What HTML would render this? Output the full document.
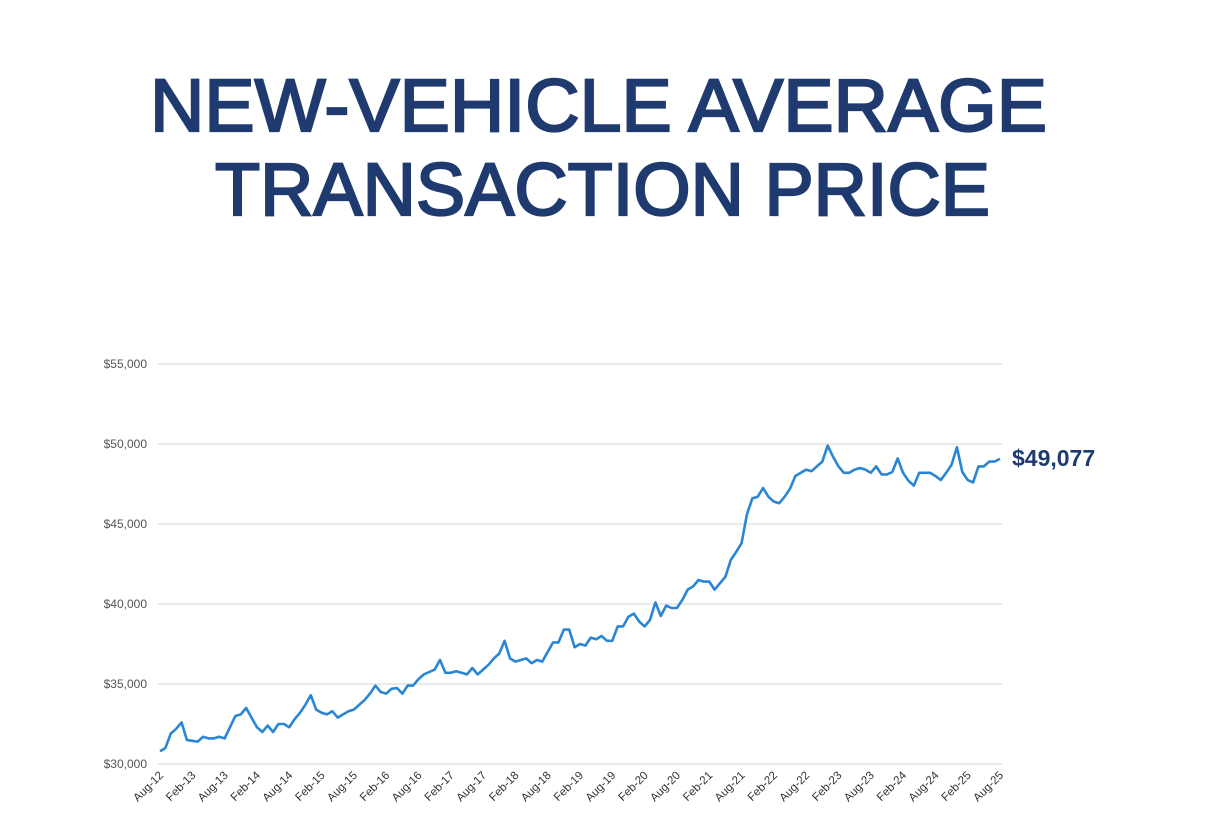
<!DOCTYPE html>
<html><head><meta charset="utf-8"><style>
html,body{margin:0;padding:0;background:#fff;}
svg{display:block;}
</style></head><body>
<svg id="chart" width="1206" height="840" xmlns="http://www.w3.org/2000/svg" font-family="Liberation Sans, sans-serif">
<text x="150" y="131" font-size="74" fill="#1f3a6e" stroke="#1f3a6e" stroke-width="2.2" textLength="897" lengthAdjust="spacingAndGlyphs">NEW-VEHICLE AVERAGE</text>
<text x="215" y="215" font-size="74" fill="#1f3a6e" stroke="#1f3a6e" stroke-width="2.2" textLength="775" lengthAdjust="spacingAndGlyphs">TRANSACTION PRICE</text>
<g id="grid"></g><g id="ylabels"></g><g id="xlabels"></g><g id="series"></g>
<text x="1012" y="466" font-size="23" font-weight="bold" fill="#1f3a6e">$49,077</text>
</svg>
<script>
const yTicks=[30000,35000,40000,45000,50000,55000];
const xTickLabels=["Aug-12","Feb-13","Aug-13","Feb-14","Aug-14","Feb-15","Aug-15","Feb-16","Aug-16","Feb-17","Aug-17","Feb-18","Aug-18","Feb-19","Aug-19","Feb-20","Aug-20","Feb-21","Aug-21","Feb-22","Aug-22","Feb-23","Aug-23","Feb-24","Aug-24","Feb-25","Aug-25"];
const pricesK=[30.8,31.0,31.9,32.2,32.6,31.5,31.45,31.4,31.7,31.6,31.6,31.7,31.6,32.3,33.0,33.1,33.5,32.9,32.3,32.0,32.4,32.0,32.5,32.5,32.3,32.8,33.2,33.7,34.3,33.4,33.2,33.1,33.3,32.9,33.1,33.3,33.4,33.7,34.0,34.4,34.9,34.5,34.4,34.7,34.75,34.4,34.9,34.9,35.3,35.6,35.75,35.9,36.5,35.7,35.7,35.8,35.7,35.6,36.0,35.6,35.9,36.2,36.6,36.9,37.7,36.6,36.4,36.5,36.6,36.3,36.5,36.4,37.0,37.6,37.6,38.4,38.4,37.3,37.5,37.4,37.9,37.8,38.0,37.7,37.7,38.6,38.6,39.2,39.4,38.9,38.6,39.0,40.1,39.25,39.9,39.75,39.75,40.25,40.9,41.1,41.5,41.4,41.4,40.9,41.3,41.7,42.75,43.25,43.8,45.6,46.6,46.7,47.25,46.7,46.4,46.3,46.7,47.2,48.0,48.2,48.4,48.3,48.6,48.9,49.9,49.2,48.6,48.2,48.2,48.4,48.5,48.4,48.2,48.6,48.1,48.1,48.25,49.1,48.2,47.7,47.4,48.2,48.2,48.2,48.0,47.75,48.2,48.7,49.8,48.25,47.75,47.6,48.6,48.6,48.9,48.9,49.077];
const NS="http://www.w3.org/2000/svg";
const x0=160,x1=1000,yBase=764,pxPerK=16;
const xs=i=>x0+(x1-x0)*i/(pricesK.length-1);
const ys=v=>yBase-(v/1000-30)*pxPerK;
function mk(t,a,p){const e=document.createElementNS(NS,t);for(const k in a)e.setAttribute(k,a[k]);p.appendChild(e);return e;}
const grid=document.getElementById('grid'),yl=document.getElementById('ylabels'),xl=document.getElementById('xlabels'),ser=document.getElementById('series');
yTicks.forEach(v=>{
 const l=mk('line',{x1:158,x2:1002,y1:ys(v),y2:ys(v),stroke:'#e3e3e6','stroke-width':1.5},grid);
 
 
 const t=mk('text',{x:147,y:ys(v)+4,'font-size':12,fill:'#555','text-anchor':'end'},yl);
 t.textContent='$'+v.toLocaleString('en-US');
 
 
});
xTickLabels.forEach((s,j)=>{
 const x=xs(j*6)+4,y=776;
 const t=mk('text',{x:x,y:y,'font-size':11.5,fill:'#333','text-anchor':'end',transform:`rotate(-45 ${x} ${y})`},xl);
 t.textContent=s;
 
 
});
const p=mk('polyline',{points:pricesK.map((v,i)=>xs(i)+','+ys(v*1000)).join(' '),fill:'none',stroke:'#2a86d4','stroke-width':2.6,'stroke-linejoin':'round'},ser);


</script>
</body></html>
